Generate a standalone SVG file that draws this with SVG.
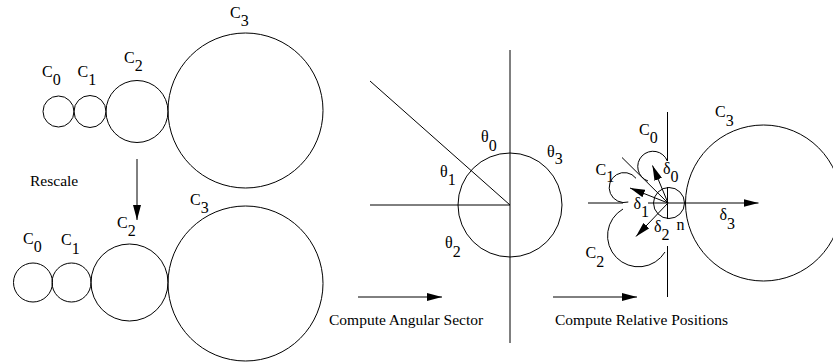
<svg xmlns="http://www.w3.org/2000/svg" width="833" height="362" viewBox="0 0 833 362">
<style>
.c{fill:none;stroke:#000;stroke-width:1}
.l{fill:none;stroke:#000;stroke-width:1}
.a{fill:none;stroke:#000;stroke-width:1;marker-end:url(#ah)}
text{font-family:"Liberation Serif","Times New Roman","DejaVu Serif",serif;fill:#000}
.lb{font-size:16px}
.cap{font-size:15.5px}
</style>
<defs>
<marker id="ah" viewBox="0 0 15 8" refX="15" refY="4" markerWidth="15" markerHeight="8" markerUnits="userSpaceOnUse" orient="auto">
<path d="M0,0 L15,4 L0,8 Z" fill="#000"/>
</marker>
</defs>
<rect width="833" height="362" fill="#fff"/>

<g id="top-row">
<g id="t-c0"><circle class="c" cx="58.5" cy="111.5" r="15.5"/><text class="lb" x="42" y="77">C<tspan dy="7.5">0</tspan></text></g>
<g id="t-c1"><circle class="c" cx="90" cy="111.5" r="16"/><text class="lb" x="77.5" y="77">C<tspan dy="7.5">1</tspan></text></g>
<g id="t-c2"><circle class="c" cx="137" cy="111.5" r="31"/><text class="lb" x="124" y="63">C<tspan dy="8">2</tspan></text></g>
<g id="t-c3"><circle class="c" cx="245.5" cy="110.5" r="77.5"/><text class="lb" x="230" y="18">C<tspan dy="7.5">3</tspan></text></g>
</g>

<g id="bottom-row">
<g id="b-c0"><circle class="c" cx="33" cy="282.5" r="19.5"/><text class="lb" x="23" y="244">C<tspan dy="8">0</tspan></text></g>
<g id="b-c1"><circle class="c" cx="71.5" cy="282.5" r="19.5"/><text class="lb" x="61" y="245">C<tspan dy="8.5">1</tspan></text></g>
<g id="b-c2"><circle class="c" cx="129.5" cy="282.5" r="38.5"/><text class="lb" x="117" y="228">C<tspan dy="8">2</tspan></text></g>
<g id="b-c3"><circle class="c" cx="245.5" cy="283.5" r="77.5"/><text class="lb" x="190" y="205">C<tspan dy="7.5">3</tspan></text></g>
</g>

<g id="sector">
<line class="l" x1="510" y1="50" x2="510" y2="343"/>
<line class="l" x1="370" y1="205" x2="510" y2="205"/>
<line class="l" x1="370" y1="81" x2="510" y2="205"/>
<circle class="c" cx="510" cy="205" r="52"/>
<text class="lb" x="481" y="142">θ<tspan dy="8.5">0</tspan></text>
<text class="lb" x="547" y="157">θ<tspan dy="7">3</tspan></text>
<text class="lb" x="440" y="177">θ<tspan dy="8">1</tspan></text>
<text class="lb" x="445" y="248">θ<tspan dy="8.5">2</tspan></text>
</g>

<g id="relative">
<g id="r-lines">
<line class="l" x1="667.5" y1="112" x2="667.5" y2="161"/>
<line class="l" x1="667.5" y1="187" x2="667.5" y2="219"/>
<line class="l" x1="667.5" y1="246" x2="667.5" y2="297"/>
<line class="l" x1="588" y1="203" x2="623" y2="203"/>
<line class="l" x1="648" y1="203" x2="668" y2="203"/>
<line class="l" x1="622" y1="157.5" x2="668" y2="203"/>
</g>
<g id="r-n"><circle class="c" cx="669" cy="203" r="15.5"/><text class="lb" x="676.5" y="230">n</text></g>
<g id="r-c0"><path class="c" d="M667.3,161 A15.3,15.3 0 1 0 648,181"/><text class="lb" x="639" y="135">C<tspan dy="8">0</tspan></text></g>
<g id="r-c1"><path class="c" d="M636,178.3 A15,15 0 1 0 628.3,202"/><text class="lb" x="595.5" y="175">C<tspan dy="7">1</tspan></text></g>
<g id="r-c2"><path class="c" d="M623,209 A31,31 0 1 0 665,252"/><text class="lb" x="585.5" y="258">C<tspan dy="8.5">2</tspan></text></g>
<g id="r-c3"><circle class="c" cx="763.5" cy="203" r="78"/><text class="lb" x="715" y="117">C<tspan dy="8.5">3</tspan></text></g>
<text class="lb" x="663" y="173.5">δ<tspan dy="8">0</tspan></text>
<text class="lb" x="633.5" y="208.5">δ<tspan dy="8">1</tspan></text>
<text class="lb" x="654" y="232">δ<tspan dy="8">2</tspan></text>
<text class="lb" x="719.5" y="220">δ<tspan dy="9">3</tspan></text>
</g>

<g id="connectors">
<line class="a" x1="137" y1="159" x2="137" y2="220"/>
<line class="a" x1="358" y1="297" x2="442" y2="297"/>
<line class="a" x1="553" y1="297" x2="637" y2="297"/>
<line class="a" x1="668" y1="203" x2="652.5" y2="165.5"/>
<line class="a" x1="668" y1="203" x2="630" y2="188"/>
<line class="a" x1="668" y1="203" x2="636" y2="236.5"/>
<line class="a" x1="668" y1="203" x2="758.5" y2="203"/>
</g>

<g id="captions">
<text class="cap" x="30" y="186">Rescale</text>
<text class="cap" x="329" y="325">Compute Angular Sector</text>
<text class="cap" x="555" y="325">Compute Relative Positions</text>
</g>
</svg>
